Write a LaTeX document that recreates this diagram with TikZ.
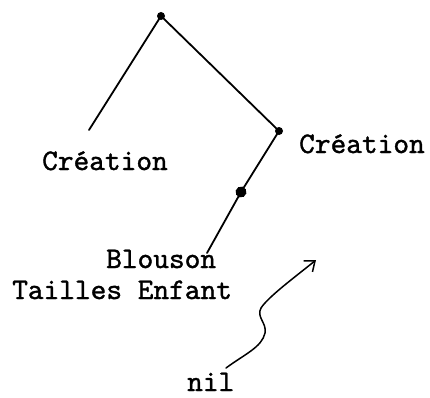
\documentclass[tikz,border=0pt]{standalone}
\usepackage{fontspec}
\newfontfamily\typer{lmmono10-regular.otf}[FakeBold=1.2]
\usetikzlibrary{arrows.meta}
\begin{document}
\begin{tikzpicture}[x=1pt,y=1pt,
  edge/.style={line width=1.8pt, line cap=round},
  vertex/.style={circle, fill=black, inner sep=0pt, minimum size=8pt},
  label/.style={inner sep=0pt, anchor=base west,
    font=\typer\fontsize{29.9}{34}\selectfont}]
\useasboundingbox (0,0) rectangle (430,397);
\fill[white] (0,0) rectangle (430,397);

% tree vertices
\node[vertex] (root) at (161,381) {};
\node[vertex] (right) at (279,266) {};
\node[vertex, minimum width=8pt, minimum height=11pt, rotate=30] (mid) at (241,205) {};
\coordinate (leftend) at (89,267);
\coordinate (lowend) at (207,144);

% labels
\node[label] (lcreation) at (42,227) {Création};
\node[label] (rcreation) at (299,244) {Création};
\node[label] (blouson) at (106,129) {Blouson};
\node[label] (tailles) at (12,98) {Tailles Enfant};
\node[label] (nil) at (187,6) {nil};

% branches
\draw[edge] (root.center) -- (leftend);
\draw[edge] (root.center) -- (right.center);
\draw[edge] (right.center) -- (mid.center) -- (lowend);

% wavy pointer from nil
\coordinate (nilstart) at (226,29);
\coordinate (tip) at (316,137);
\draw[edge, line width=1.5pt, -{Straight Barb[length=9pt,width=14pt]}]
  (nilstart) .. controls (245,43) and (262,50) .. (265,64)
  .. controls (267,74) and (256,80) .. (261,89)
  .. controls (268,100) and (295,120) .. (tip);
\end{tikzpicture}
\end{document}
